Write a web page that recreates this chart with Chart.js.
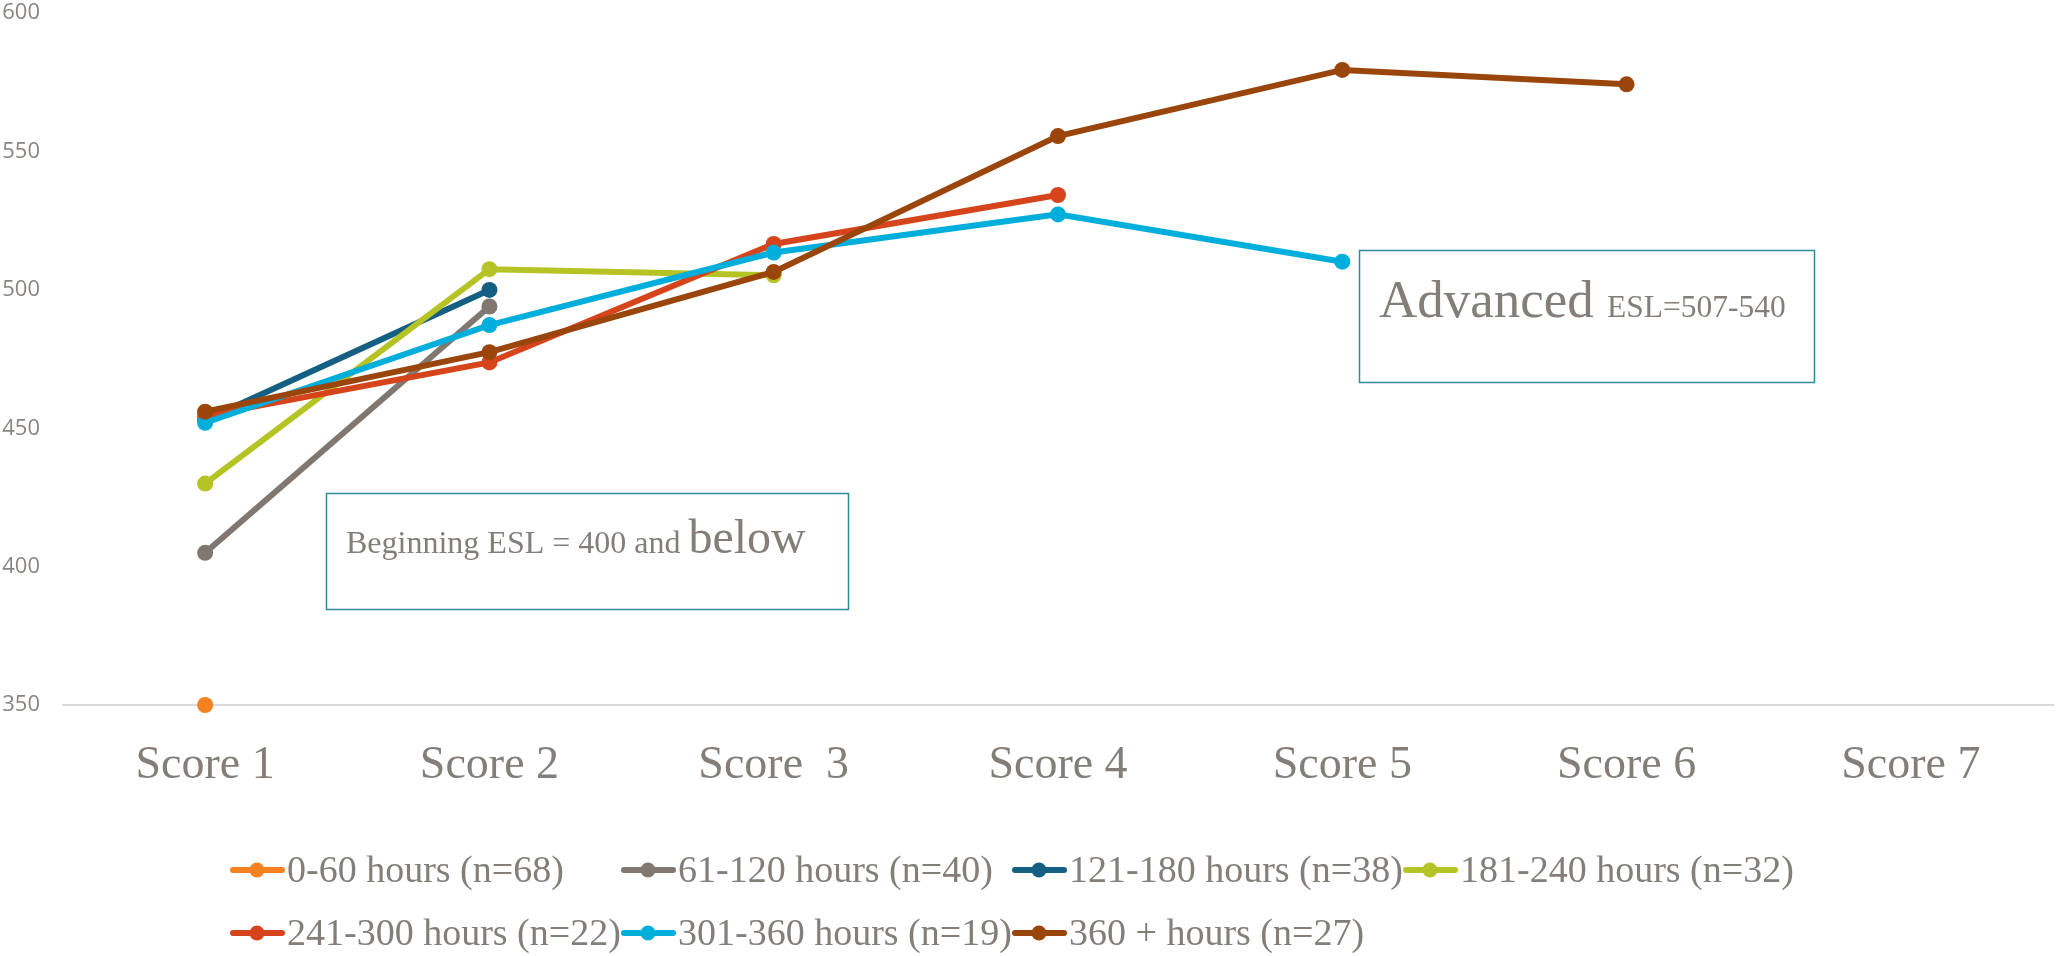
<!DOCTYPE html>
<html>
<head>
<meta charset="utf-8">
<script src="https://cdn.jsdelivr.net/npm/chart.js@4/dist/chart.umd.min.js"></script>
<style>
  html, body { margin: 0; padding: 0; background: #ffffff; }
  #wrap { width: 2061px; height: 956px; position: relative; }
</style>
</head>
<body>
<div id="wrap"><canvas id="c" width="2061" height="956"></canvas></div>
<script>
// Categories along the x axis
const categories = ['Score 1', 'Score 2', 'Score  3', 'Score 4', 'Score 5', 'Score 6', 'Score 7'];

// Series labels
const seriesLabels = [
  '0-60 hours (n=68)',
  '61-120 hours (n=40)',
  '121-180 hours (n=38)',
  '181-240 hours (n=32)',
  '241-300 hours (n=22)',
  '301-360 hours (n=19)',
  '360 + hours (n=27)'
];

// Average scale scores by score level (null = no data)
const hours0to60    = [350, null, null, null, null, null, null];
const hours61to120  = [405, 494, null, null, null, null, null];
const hours121to180 = [453, 500, null, null, null, null, null];
const hours181to240 = [430, 507.5, 505.3, null, null, null, null];
const hours241to300 = [454.5, 473.8, 516.6, 534.3, null, null, null];
const hours301to360 = [452, 487.3, 513.5, 527.3, 510.2, null, null];
const hours360plus  = [456, 477.5, 506.5, 555.6, 579.5, 574.3, null];

// Y axis range and tick step
const yMin = 350;
const yMax = 600;
const yStep = 50;

const seriesValues = [hours0to60, hours61to120, hours121to180, hours181to240, hours241to300, hours301to360, hours360plus];
const seriesColors = ['#f58220', '#7f7770', '#155f83', '#b5c325', '#d5441b', '#00aedb', '#9a450b'];

const textGray = '#847e79';
const serif = '"Liberation Serif", "Times New Roman", serif';

// Custom legend laid out in fixed columns below the axis
const columnLegend = {
  id: 'columnLegend',
  afterDraw(chart) {
    const ctx = chart.ctx;
    const perRow = 4;
    const startX = 230, colW = 391;
    const rowY = [870, 933];
    ctx.save();
    ctx.font = '38px ' + serif;
    ctx.textBaseline = 'middle';
    ctx.textAlign = 'left';
    chart.data.datasets.forEach((ds, i) => {
      const r = Math.floor(i / perRow), c = i % perRow;
      const x = startX + c * colW, y = rowY[r];
      ctx.strokeStyle = ds.borderColor;
      ctx.lineWidth = 6;
      ctx.lineCap = 'round';
      ctx.beginPath();
      ctx.moveTo(x + 3, y);
      ctx.lineTo(x + 52, y);
      ctx.stroke();
      ctx.fillStyle = ds.borderColor;
      ctx.beginPath();
      ctx.arc(x + 27, y, 7.5, 0, Math.PI * 2);
      ctx.fill();
      ctx.fillStyle = textGray;
      ctx.fillText(ds.label, x + 57, y + 2);
    });
    ctx.restore();
  }
};

// Two framed text notes on the plot
const notes = [
  { box: [326, 493, 522, 116], parts: [['Beginning ESL = 400 and ', 32], ['below', 48]], textX: 346, baseline: 553 },
  { box: [1359, 250, 455, 132], parts: [['Advanced ', 53], ['ESL=507-540', 31.5]], textX: 1379, baseline: 317 }
];

const noteBoxes = {
  id: 'noteBoxes',
  afterDatasetsDraw(chart) {
    const ctx = chart.ctx;
    ctx.save();
    notes.forEach(n => {
      const [x, y, w, h] = n.box;
      ctx.fillStyle = '#ffffff';
      ctx.fillRect(x, y, w, h);
      ctx.strokeStyle = '#2f8a9b';
      ctx.lineWidth = 1.5;
      ctx.strokeRect(x + 0.5, y + 0.5, w, h);
      ctx.fillStyle = textGray;
      ctx.textBaseline = 'alphabetic';
      ctx.textAlign = 'left';
      let tx = n.textX;
      n.parts.forEach(([t, size]) => {
        ctx.font = size + 'px ' + serif;
        ctx.fillText(t, tx, n.baseline);
        tx += ctx.measureText(t).width;
      });
    });
    ctx.restore();
  }
};

const datasets = seriesValues.map((vals, i) => ({
  label: seriesLabels[i],
  data: vals,
  borderColor: seriesColors[i],
  backgroundColor: seriesColors[i],
  pointBackgroundColor: seriesColors[i],
  pointBorderColor: seriesColors[i],
  borderWidth: 6,
  pointRadius: 8,
  pointBorderWidth: 0,
  pointHoverRadius: 8,
  spanGaps: false,
  tension: 0,
  clip: false,
  order: seriesValues.length - i
}));

new Chart(document.getElementById('c'), {
  type: 'line',
  data: { labels: categories, datasets },
  options: {
    responsive: false,
    animation: false,
    devicePixelRatio: 1,
    layout: { padding: { top: 0, right: 0, bottom: 0, left: 0 } },
    plugins: {
      legend: { display: false },
      tooltip: { enabled: false }
    },
    scales: {
      x: {
        offset: true,
        grid: { display: true, drawOnChartArea: false, drawTicks: false },
        border: { display: true, color: '#d9d9d9', width: 2 },
        ticks: {
          color: textGray,
          font: { family: serif, size: 46 },
          padding: 33,
          maxRotation: 0,
          autoSkip: false
        },
        afterFit(scale) { scale.height = 251; }
      },
      y: {
        min: yMin,
        max: yMax,
        grid: { display: false, tickLength: 23 },
        border: { display: false },
        ticks: {
          stepSize: yStep,
          color: '#8a8580',
          font: { family: '"Open Sans", sans-serif', size: 22 },
          padding: 0
        },
        afterFit(scale) { scale.width = 63; }
      }
    }
  },
  plugins: [noteBoxes, columnLegend]
});
</script>
</body>
</html>
